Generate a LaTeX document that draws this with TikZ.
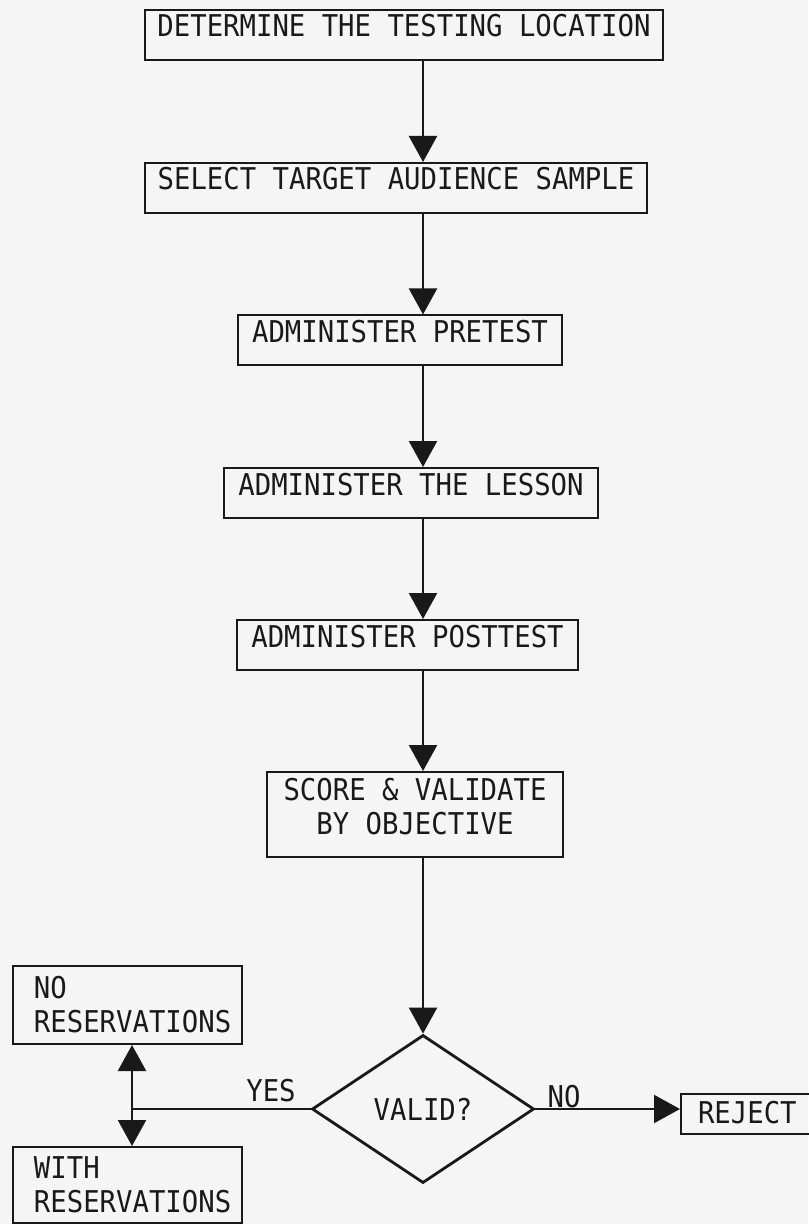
\documentclass[tikz,border=0pt]{standalone}
\usepackage{fontspec}
\setmainfont[FakeStretch=0.91]{DejaVu Sans Mono}
\usetikzlibrary{arrows.meta,shapes.geometric}
\definecolor{ink}{RGB}{25,25,25}
\definecolor{paper}{RGB}{245,245,245}
\begin{document}
\begin{tikzpicture}[x=0.5pt,y=-0.5pt,
  every node/.style={font=\fontsize{15}{17}\selectfont, text=ink},
  stepbox/.style={draw=ink, line width=1pt, inner xsep=0pt, inner ysep=0pt, text height=13.5pt, text depth=11.5pt},
  conn/.style={draw=ink, line width=1.1pt},
  tip/.style={-{Triangle[width=14pt,length=13pt]}}
]
\fill[paper] (0,0) rectangle (808,1224);
\useasboundingbox (0,0) rectangle (808,1224);

\node[stepbox, minimum width=259pt] (b1) at (404,35) {DETERMINE THE TESTING LOCATION};
\node[stepbox, minimum width=251pt] (b2) at (396,188) {SELECT TARGET AUDIENCE SAMPLE};
\node[stepbox, minimum width=162pt] (b3) at (400,340.5) {ADMINISTER PRETEST};
\node[stepbox, minimum width=187pt] (b4) at (411,493) {ADMINISTER THE LESSON};
\node[stepbox, minimum width=170.5pt] (b5) at (407.5,645) {ADMINISTER POSTTEST};
\node[stepbox, minimum width=148pt, align=center, text height=31pt, text depth=11.5pt] (b6) at (415,814.5) {SCORE \& VALIDATE\\BY OBJECTIVE};

\node[diamond, draw=ink, line width=1.4pt, minimum width=111pt, minimum height=74pt, inner sep=0pt] (d) at (423,1109) {VALID?};

\node[stepbox, anchor=north west, text width=104pt, inner xsep=5.25pt, align=left, text height=16pt, text depth=23pt] (nr) at (12,965) {\hspace*{5.25pt}NO\\\hspace*{5.25pt}RESERVATIONS};
\node[stepbox, anchor=north west, text width=104pt, inner xsep=5.25pt, align=left, text height=15.5pt, text depth=22.5pt] (wr) at (12,1146) {\hspace*{5.25pt}WITH\\\hspace*{5.25pt}RESERVATIONS};
\node[stepbox, anchor=north west, inner xsep=8.5pt, text height=14.5pt, text depth=5.5pt] (rej) at (680,1093) {REJECT};

\draw[conn,tip] (b1.south -| d.north) -- (b2.north -| d.north);
\draw[conn,tip] (b2.south -| d.north) -- (b3.north -| d.north);
\draw[conn,tip] (b3.south -| d.north) -- (b4.north -| d.north);
\draw[conn,tip] (b4.south -| d.north) -- (b5.north -| d.north);
\draw[conn,tip] (b5.south -| d.north) -- (b6.north -| d.north);
\draw[conn,tip] (b6.south -| d.north) -- (d.north);

\coordinate (j) at (132,1109);
\draw[conn] (d.west) -- (j);
\draw[conn,tip] (j) -- (j |- nr.south);
\draw[conn,tip] (j) -- (j |- wr.north);
\draw[conn,tip] (d.east) -- (d.east -| rej.west);

\node (yes) at (271,1091) {YES};
\node (no) at (564,1097) {NO};
\end{tikzpicture}
\end{document}
